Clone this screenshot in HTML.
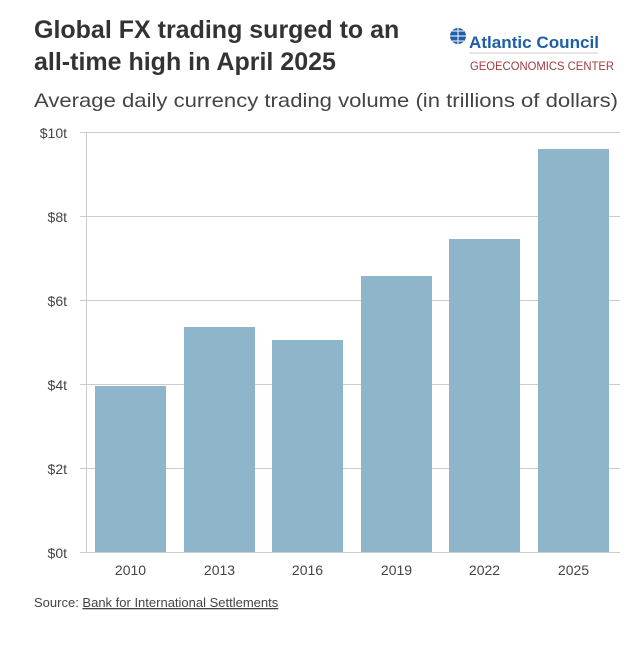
<!DOCTYPE html>
<html><head><meta charset="utf-8"><style>
body{margin:0;width:632px;height:644px;background:#fff;font-family:"Liberation Sans",sans-serif;overflow:hidden}
</style></head><body>
<svg width="632" height="644" xmlns="http://www.w3.org/2000/svg" font-family="Liberation Sans, sans-serif">
<text x="34" y="38" font-size="25" font-weight="bold" fill="#333">Global FX trading surged to an</text>
<text x="34" y="70" font-size="25" font-weight="bold" fill="#333">all-time high in April 2025</text>
<text x="34" y="107" font-size="19.5" fill="#444" textLength="584" lengthAdjust="spacingAndGlyphs">Average daily currency trading volume (in trillions of dollars)</text>
<circle cx="458" cy="36" r="8" fill="#1f5fa8"/>
<path d="M450 36h16M458 28v16M452 31h12M452 41h12" stroke="#fff" stroke-width="1"/>
<text x="469" y="48" font-size="16.5" font-weight="bold" fill="#1f5fa8" textLength="130" lengthAdjust="spacingAndGlyphs">Atlantic Council</text>
<line x1="469" y1="53" x2="598" y2="53" stroke="#ccc" stroke-width="1"/>
<text x="470" y="70" font-size="12" fill="#a53a40" textLength="144" lengthAdjust="spacingAndGlyphs">GEOECONOMICS CENTER</text>
<g stroke="#ccc" stroke-width="1">
<line x1="80" y1="132.5" x2="620" y2="132.5"/>
<line x1="80" y1="216.5" x2="620" y2="216.5"/>
<line x1="80" y1="300.5" x2="620" y2="300.5"/>
<line x1="80" y1="384.5" x2="620" y2="384.5"/>
<line x1="80" y1="468.5" x2="620" y2="468.5"/>
<line x1="80" y1="552.5" x2="620" y2="552.5"/>
<line x1="86.5" y1="132" x2="86.5" y2="553"/>
</g>
<g font-size="14" fill="#444" text-anchor="end">
<text x="67" y="138">$10t</text><text x="67" y="222">$8t</text><text x="67" y="306">$6t</text>
<text x="67" y="390">$4t</text><text x="67" y="474">$2t</text><text x="67" y="558">$0t</text>
</g>
<g fill="#8fb5ca">
<rect x="95" y="386" width="71" height="166"/>
<rect x="184" y="327" width="71" height="225"/>
<rect x="272" y="340" width="71" height="212"/>
<rect x="361" y="276" width="71" height="276"/>
<rect x="449" y="239" width="71" height="313"/>
<rect x="538" y="149" width="71" height="403"/>
</g>
<g font-size="14" fill="#444" text-anchor="middle">
<text x="130.5" y="575">2010</text><text x="219.5" y="575">2013</text><text x="307.5" y="575">2016</text>
<text x="396.5" y="575">2019</text><text x="484.5" y="575">2022</text><text x="573.5" y="575">2025</text>
</g>
<text x="34" y="607" font-size="13" fill="#444">Source: <tspan text-decoration="underline">Bank for International Settlements</tspan></text>
</svg>
</body></html>
